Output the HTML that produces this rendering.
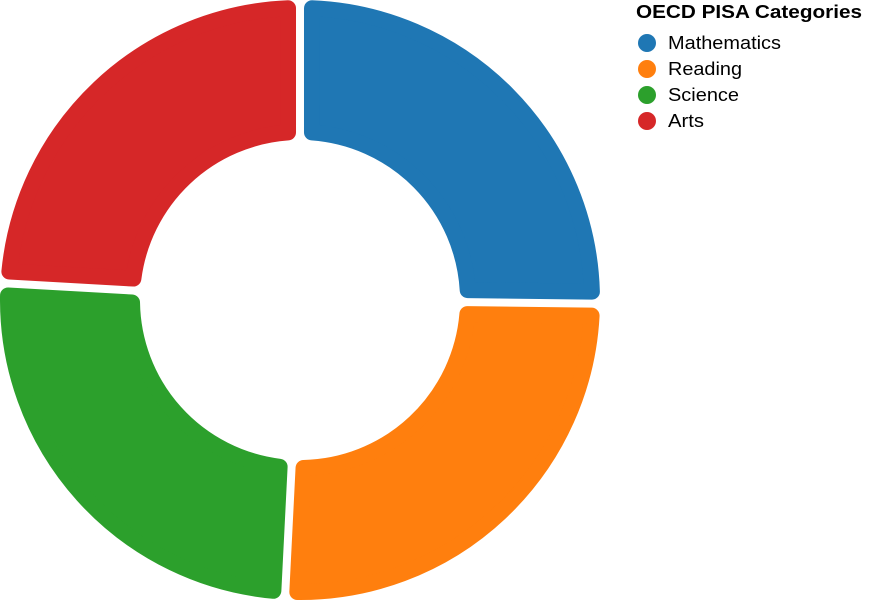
<!DOCTYPE html>
<html><head><meta charset="utf-8"><style>
html,body{margin:0;padding:0;background:#fff;}
svg{display:block;font-family:"Liberation Sans",Arial,sans-serif;}
</style></head><body>
<svg id="chart" width="878" height="600"></svg>
<script>
const categories = ["Mathematics","Reading","Science","Arts"];
const values = [25.2, 25.6, 25.1, 24.1];
const colors = ["#1f77b4","#ff7f0e","#2ca02c","#d62728"];
const legendTitle = "OECD PISA Categories";
const labelWidths = [113, 74, 71, 36];

const NS = "http://www.w3.org/2000/svg";
const svg = document.getElementById("chart");
const cx = 300, cy = 300, R = 300, r = 160, cr = 8, padPx = 4;
const total = values.reduce((a,b)=>a+b,0);
function pt(rad, a){ return [cx + rad*Math.sin(a), cy - rad*Math.cos(a)]; }
const g = document.createElementNS(NS,"g");


svg.appendChild(g);
let acc = 0;
values.forEach((v,i)=>{
  const a0 = acc/total*2*Math.PI, a1 = (acc+v)/total*2*Math.PI; acc += v;
  const Ro = R - cr, Ri = r + cr;
  const so = (padPx+cr)/Ro, si = (padPx+cr)/Ri;
  const p1 = pt(Ro,a0+so), p2 = pt(Ro,a1-so), p3 = pt(Ri,a1-si), p4 = pt(Ri,a0+si);
  const largeO = (a1-a0-2*so) > Math.PI ? 1 : 0, largeI = (a1-a0-2*si) > Math.PI ? 1 : 0;
  const d = `M${p1}A${Ro},${Ro} 0 ${largeO} 1 ${p2}L${p3}A${Ri},${Ri} 0 ${largeI} 0 ${p4}Z`;
  const p = document.createElementNS(NS,"path");
  p.setAttribute("d", d);
  p.setAttribute("fill", colors[i]);
  p.setAttribute("stroke", colors[i]);
  p.setAttribute("stroke-width", 2*cr);
  p.setAttribute("stroke-linejoin", "round");
  
  
  g.appendChild(p);
});
const lg = document.createElementNS(NS,"g");


svg.appendChild(lg);
const t = document.createElementNS(NS,"text");
t.setAttribute("x",636); t.setAttribute("y",18);
t.setAttribute("font-size","18"); t.setAttribute("font-weight","bold"); t.setAttribute("fill","#000");
t.setAttribute("textLength","226"); t.setAttribute("lengthAdjust","spacingAndGlyphs");
t.textContent = legendTitle;


lg.appendChild(t);
categories.forEach((c,i)=>{
  const y = 43 + i*26;
  const e = document.createElementNS(NS,"g");
  
  
  const ci = document.createElementNS(NS,"circle");
  ci.setAttribute("cx",647); ci.setAttribute("cy",y); ci.setAttribute("r",9);
  ci.setAttribute("fill",colors[i]);
  
  
  const tx = document.createElementNS(NS,"text");
  tx.setAttribute("x",668); tx.setAttribute("y",y+6);
  tx.setAttribute("font-size","18"); tx.setAttribute("fill","#000");
  tx.setAttribute("textLength",labelWidths[i]); tx.setAttribute("lengthAdjust","spacingAndGlyphs");
  tx.textContent = c;
  
  
  e.appendChild(ci); e.appendChild(tx); lg.appendChild(e);
});
</script>
</body></html>
